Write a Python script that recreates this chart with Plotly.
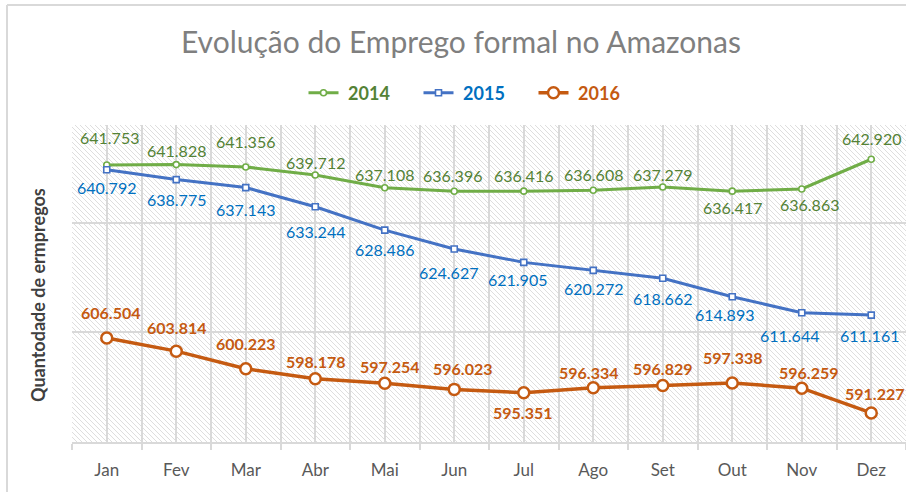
import plotly.graph_objects as go

# ---------------- data ----------------
months = ["Jan", "Fev", "Mar", "Abr", "Mai", "Jun", "Jul", "Ago", "Set", "Out", "Nov", "Dez"]
emp_2014 = [641753, 641828, 641356, 639712, 637108, 636396, 636416, 636608, 637279, 636417, 636863, 642920]
emp_2015 = [640792, 638775, 637143, 633244, 628486, 624627, 621905, 620272, 618662, 614893, 611644, 611161]
emp_2016 = [606504, 603814, 600223, 598178, 597254, 596023, 595351, 596334, 596829, 597338, 596259, 591227]
series_names = ["2014", "2015", "2016"]

# ---------------- label placement (pixel offsets from the point: dx, dy down) ----------------
off_2014 = [(3, -27), (0, -14), (0, -25), (0, -12), (0, -13), (-2, -16), (0, -16), (0, -16), (0, -12), (0, 16), (8, 16), (0, -21)]
off_2015 = [(0, 18), (0, 20), (0, 22), (0, 25), (0, 19), (-6, 23), (-6, 17), (0, 18), (0, 20), (-8, 18), (-12, 23), (-2, 20)]
off_2016 = [(4, -25), (0, -24), (0, -25), (0, -17), (5, -17), (8, -21), (-1, 20), (-5, -15), (0, -17), (0, -25), (7, -16), (3, -19)]

line_colors = ["#70AD47", "#4472C4", "#C55A11"]
text_colors = ["#548235", "#0070C0", "#C55A11"]

W, H = 906, 492
ML, MR, MT, MB = 72, 0, 125, 50
PW, PH = W - ML - MR, H - MT - MB


def fmt(v):
    return f"{v:,}".replace(",", ".")


def px2paper(px, py):
    return (px - ML) / PW, (H - MB - py) / PH


x_idx = list(range(len(months)))

fig = go.Figure()

markers = [
    dict(symbol="circle", size=6, color="white", line=dict(color=line_colors[0], width=1.6)),
    dict(symbol="square", size=6, color="white", line=dict(color=line_colors[1], width=1.6)),
    dict(symbol="circle", size=11, color="white", line=dict(color=line_colors[2], width=2.5)),
]
all_series = [emp_2014, emp_2015, emp_2016]
offsets = [off_2014, off_2015, off_2016]
bold = [False, False, True]
lw = [3, 3, 3.5]

for k, ys in enumerate(all_series):
    fig.add_trace(go.Scatter(
        x=x_idx, y=ys, mode="lines+markers",
        name=f"&nbsp;<span style='color:{text_colors[k]}'><b>{series_names[k]}</b></span>",
        line=dict(color=line_colors[k], width=lw[k]),
        marker=markers[k],
    ))
    for i, v in enumerate(ys):
        dx, dy = offsets[k][i]
        txt = fmt(v)
        if bold[k]:
            txt = f"<b>{txt}</b>"
        fig.add_annotation(x=x_idx[i], y=v, xref="x", yref="y", text=txt, showarrow=False,
                           xshift=dx, yshift=-dy,
                           font=dict(family="Lato", size=16, color=text_colors[k]))

# hatch background (decorative "\\" stripes) clipped to plot area
step = 5
segs = []
c = -PH
while c <= PW:
    if c >= 0:
        x0p, y0p = c, 0
    else:
        x0p, y0p = 0, -c
    if c + PH <= PW:
        x1p, y1p = c + PH, PH
    else:
        x1p, y1p = PW, PW - c
    segs.append(f"M{x0p / PW:.5f},{1 - y0p / PH:.5f}L{x1p / PW:.5f},{1 - y1p / PH:.5f}")
    c += step
fig.add_shape(type="path", path="".join(segs), xref="paper", yref="paper",
              line=dict(color="#DEDEDE", width=1), layer="below")

# outer chart border (left + top)
bx0, by0 = px2paper(7, 5)
bx1, by1 = px2paper(906, 492)
fig.add_shape(type="line", xref="paper", yref="paper", x0=bx0, y0=by0, x1=bx0, y1=by1,
              line=dict(color="#D9D9D9", width=2))
fig.add_shape(type="line", xref="paper", yref="paper", x0=bx0, y0=by0, x1=bx1, y1=by0,
              line=dict(color="#D9D9D9", width=2))

# y axis title
tx, ty = px2paper(38, 295)
fig.add_annotation(x=tx, y=ty, xref="paper", yref="paper", text="<b>Quantodade de ermpregos</b>",
                   textangle=-90, showarrow=False, xanchor="center", yanchor="middle",
                   font=dict(family="Lato", size=18, color="#404040"))

fig.update_layout(
    width=W, height=H,
    margin=dict(l=ML, r=MR, t=MT, b=MB),
    paper_bgcolor="white", plot_bgcolor="rgba(0,0,0,0)",
    font=dict(family="Lato", color="#595959"),
    title=dict(text="Evolução do Emprego formal no Amazonas", x=461 / W, xanchor="center",
               y=1 - 42 / H, yanchor="middle", font=dict(family="Lato", size=30, color="#7F7F7F")),
    legend=dict(orientation="h", xref="container", yref="container", x=476 / W, xanchor="center",
                y=1 - 93 / H, yanchor="middle", font=dict(family="Lato", size=18), traceorder="normal",
                entrywidth=70, entrywidthmode="pixels"),
    showlegend=True,
)
fig.update_xaxes(
    range=[-0.5, len(months) - 0.5], tickmode="array", tickvals=x_idx, ticktext=months,
    showgrid=True, gridcolor="#D9D9D9", gridwidth=1.5, ticks="", zeroline=False,
    showline=True, linecolor="#D9D9D9", linewidth=2, ticklabelstandoff=12,
    tickfont=dict(family="Lato", size=17, color="#595959"),
    minor=dict(tick0=0.5, dtick=1, showgrid=True, gridcolor="#D9D9D9", gridwidth=1.5,
               ticks="outside", ticklen=6, tickcolor="#D9D9D9", tickwidth=2),
    fixedrange=True,
)
fig.update_yaxes(
    range=[585300, 649900], tick0=585300, dtick=22350, showgrid=True, gridcolor="#D9D9D9", gridwidth=1.5,
    showticklabels=False, zeroline=False, showline=False, ticks="", fixedrange=True,
)

fig.write_html("out.html", config={"displayModeBar": False},
               post_script="document.body.style.margin='0';")
